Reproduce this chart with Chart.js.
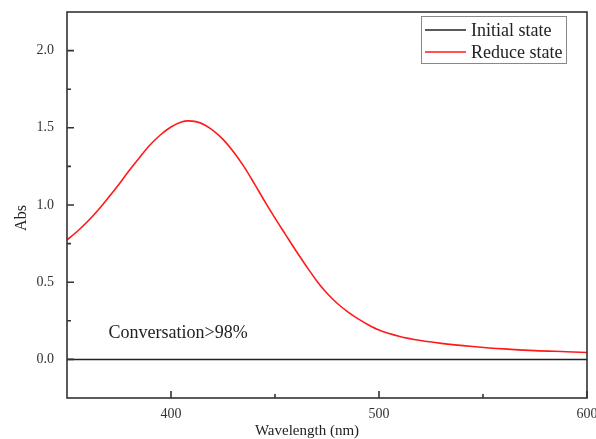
<!DOCTYPE html>
<html>
<head>
<meta charset="utf-8">
<script src="https://cdn.jsdelivr.net/npm/chart.js@4.4.1/dist/chart.umd.min.js"></script>
<style>
  html, body { margin: 0; padding: 0; background: #fff; }
  #wrap { width: 596px; height: 439px; }
</style>
</head>
<body>
<div id="wrap"><canvas id="absChart" width="596" height="439"></canvas></div>
<script>
// wavelength (nm) and absorbance of the two states
const wavelength = [350, 355, 360, 365, 370, 375, 380, 385, 390, 395, 400, 405, 408, 412, 416, 420, 425, 430, 435, 440, 445, 450, 455, 460, 465, 470, 475, 480, 485, 490, 495, 500, 510, 520, 530, 545, 560, 575, 590, 600];
const reduceState = [0.774, 0.83, 0.895, 0.968, 1.05, 1.135, 1.225, 1.31, 1.39, 1.455, 1.505, 1.537, 1.545, 1.54, 1.52, 1.485, 1.425, 1.345, 1.25, 1.14, 1.025, 0.915, 0.81, 0.705, 0.605, 0.51, 0.428, 0.362, 0.308, 0.262, 0.223, 0.19, 0.148, 0.122, 0.104, 0.084, 0.068, 0.057, 0.05, 0.045];
const initialState = wavelength.map(() => 0);

const xTicks = [400, 500, 600];
const xMinor = [450, 550];
const yTicks = [0, 0.5, 1.0, 1.5, 2.0];
const yMinor = [0.25, 0.75, 1.25, 1.75];

const serif = '"Liberation Serif", "Times New Roman", serif';
const axisColor = '#333';

function pts(ys) {
    return wavelength.map((x, i) => ({ x: x, y: ys[i] }));
}

// frame, inward ticks, titles, note, legend box
const framePlugin = {
    id: 'frame',
    afterDraw(chart) {
        const ctx = chart.ctx;
        const a = chart.chartArea;
        const xs = chart.scales.x;
        const ys = chart.scales.y;
        ctx.save();
        ctx.strokeStyle = axisColor;
        ctx.lineWidth = 1.6;
        ctx.strokeRect(a.left, a.top, a.right - a.left, a.bottom - a.top);

        ctx.beginPath();
        xTicks.forEach(v => {
            const px = xs.getPixelForValue(v);
            ctx.moveTo(px, a.bottom);
            ctx.lineTo(px, a.bottom - 7);
        });
        xMinor.forEach(v => {
            const px = xs.getPixelForValue(v);
            ctx.moveTo(px, a.bottom);
            ctx.lineTo(px, a.bottom - 4);
        });
        yTicks.forEach(v => {
            const py = ys.getPixelForValue(v);
            ctx.moveTo(a.left, py);
            ctx.lineTo(a.left + 7, py);
        });
        yMinor.forEach(v => {
            const py = ys.getPixelForValue(v);
            ctx.moveTo(a.left, py);
            ctx.lineTo(a.left + 4, py);
        });
        ctx.stroke();

        ctx.fillStyle = '#222';
        ctx.font = '15px ' + serif;
        ctx.textAlign = 'center';
        ctx.textBaseline = 'middle';
        ctx.fillText('Wavelength (nm)', 307, 431);

        ctx.font = '16px ' + serif;
        ctx.save();
        ctx.translate(22, 218);
        ctx.rotate(-Math.PI / 2);
        ctx.fillText('Abs', 0, 0);
        ctx.restore();

        ctx.font = '18px ' + serif;
        ctx.textAlign = 'left';
        ctx.fillText('Conversation>98%', xs.getPixelForValue(370), ys.getPixelForValue(0.17));

        // legend
        ctx.fillStyle = '#fff';
        ctx.fillRect(421, 16, 146, 48);
        ctx.strokeStyle = '#888';
        ctx.lineWidth = 1;
        ctx.strokeRect(421.5, 16.5, 145, 47);
        chart.data.datasets.forEach((d, i) => {
            const y = 30 + i * 22;
            ctx.strokeStyle = d.borderColor;
            ctx.lineWidth = 1.6;
            ctx.beginPath();
            ctx.moveTo(425, y);
            ctx.lineTo(466, y);
            ctx.stroke();
            ctx.fillStyle = '#222';
            ctx.fillText(d.label, 471, y + 1);
        });
        ctx.restore();
    }
};

new Chart(document.getElementById('absChart'), {
    type: 'line',
    data: {
        datasets: [
            {
                label: 'Initial state',
                data: pts(initialState),
                borderColor: '#222',
                borderWidth: 1.5,
                pointRadius: 0,
                fill: false
            },
            {
                label: 'Reduce state',
                data: pts(reduceState),
                borderColor: '#ff1a1a',
                borderWidth: 1.6,
                pointRadius: 0,
                cubicInterpolationMode: 'monotone',
                fill: false
            }
        ]
    },
    plugins: [framePlugin],
    options: {
        responsive: false,
        animation: false,
        layout: { padding: { left: 0, top: 12, right: 9, bottom: 0 } },
        plugins: {
            legend: { display: false },
            tooltip: { enabled: false }
        },
        scales: {
            x: {
                type: 'linear',
                min: 350,
                max: 600,
                afterFit: s => {
                    s.height = 41;
                    s.paddingLeft = 0;
                    s.paddingRight = 0;
                },
                afterBuildTicks: s => { s.ticks = xTicks.map(v => ({ value: v })); },
                grid: { display: false, drawTicks: false },
                border: { display: false },
                ticks: {
                    padding: 8,
                    color: '#333',
                    font: { family: serif, size: 14 },
                    maxRotation: 0,
                    callback: v => String(v)
                }
            },
            y: {
                min: -0.25,
                max: 2.25,
                afterFit: s => {
                    s.width = 67;
                    s.paddingTop = 0;
                    s.paddingBottom = 0;
                },
                afterBuildTicks: s => { s.ticks = yTicks.map(v => ({ value: v })); },
                grid: { display: false, drawTicks: false },
                border: { display: false },
                ticks: {
                    padding: 13,
                    color: '#333',
                    font: { family: serif, size: 14 },
                    callback: v => v.toFixed(1)
                }
            }
        }
    }
});
</script>
</body>
</html>
